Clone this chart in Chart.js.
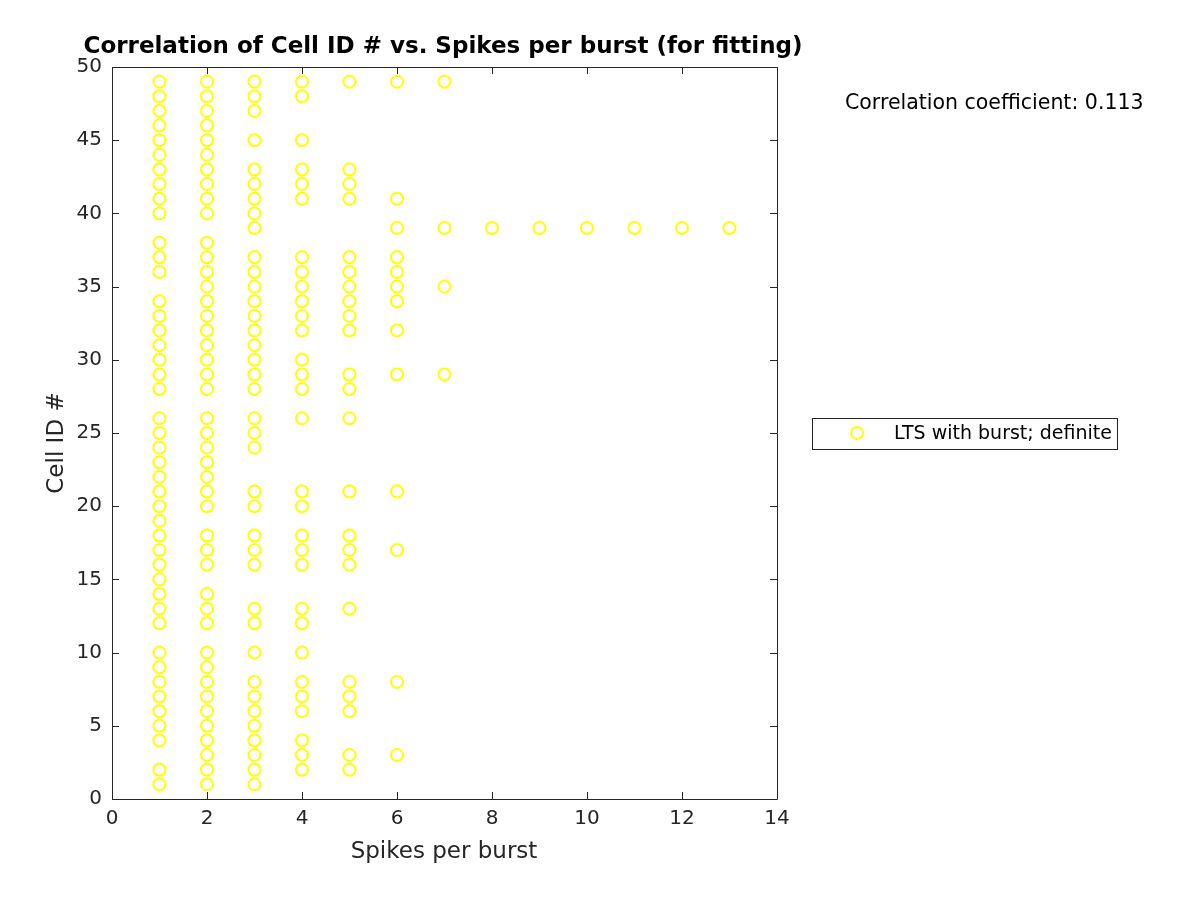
<!DOCTYPE html>
<html>
<head>
<meta charset="utf-8">
<script src="https://cdn.jsdelivr.net/npm/chart.js@4.4.1/dist/chart.umd.min.js"></script>
<style>
  html, body { margin: 0; padding: 0; background: #fff; }
  #wrap { width: 1200px; height: 900px; }
</style>
</head>
<body>
<div id="wrap"><canvas id="myScatter" width="1200" height="900"></canvas></div>
<script>
// Cell IDs that were seen at each spikes-per-burst value
const cellsAt1 = [49, 48, 47, 46, 45, 44, 43, 42, 41, 40, 38, 37, 36, 34, 33, 32, 31, 30, 29, 28, 26, 25, 24, 23, 22, 21, 20, 19, 18, 17, 16, 15, 14, 13, 12, 10, 9, 8, 7, 6, 5, 4, 2, 1];
const cellsAt2 = [49, 48, 47, 46, 45, 44, 43, 42, 41, 40, 38, 37, 36, 35, 34, 33, 32, 31, 30, 29, 28, 26, 25, 24, 23, 22, 21, 20, 18, 17, 16, 14, 13, 12, 10, 9, 8, 7, 6, 5, 4, 3, 2, 1];
const cellsAt3 = [49, 48, 47, 45, 43, 42, 41, 40, 39, 37, 36, 35, 34, 33, 32, 31, 30, 29, 28, 26, 25, 24, 21, 20, 18, 17, 16, 13, 12, 10, 8, 7, 6, 5, 4, 3, 2, 1];
const cellsAt4 = [49, 48, 45, 43, 42, 41, 37, 36, 35, 34, 33, 32, 30, 29, 28, 26, 21, 20, 18, 17, 16, 13, 12, 10, 8, 7, 6, 4, 3, 2];
const cellsAt5 = [49, 43, 42, 41, 37, 36, 35, 34, 33, 32, 29, 28, 26, 21, 18, 17, 16, 13, 8, 7, 6, 3, 2];
const cellsAt6 = [49, 41, 39, 37, 36, 35, 34, 32, 29, 21, 17, 8, 3];
const cellsAt7 = [49, 39, 35, 29];
const cellsAt8to13 = [39];

const spikeCounts = [1, 2, 3, 4, 5, 6, 7, 8, 9, 10, 11, 12, 13];
const cellLists = [cellsAt1, cellsAt2, cellsAt3, cellsAt4, cellsAt5, cellsAt6, cellsAt7,
                   cellsAt8to13, cellsAt8to13, cellsAt8to13, cellsAt8to13, cellsAt8to13, cellsAt8to13];

const xTicks = [0, 2, 4, 6, 8, 10, 12, 14];
const yTicks = [0, 5, 10, 15, 20, 25, 30, 35, 40, 45, 50];

const titleText = 'Correlation of Cell ID # vs. Spikes per burst (for fitting)';
const xLabel = 'Spikes per burst';
const yLabel = 'Cell ID #';
const legendLabel = 'LTS with burst; definite';
const corrText = 'Correlation coefficient: 0.113';

// Построяваме точките от масивите
let points = [];
spikeCounts.forEach((s, i) => {
    cellLists[i].forEach(id => points.push({ x: s, y: id }));
});

const ink = '#262626';
const yellow = 'rgb(255, 255, 0)';
const font = 'DejaVu Sans';

// Plugin: рамка, вътрешни чертички, заглавие, надписи на осите, легенда
const matlabLook = {
    id: 'matlabLook',
    afterDraw(chart) {
        const ctx = chart.ctx;
        const a = chart.chartArea;
        const xs = chart.scales.x;
        const ys = chart.scales.y;
        ctx.save();
        ctx.strokeStyle = ink;
        ctx.lineWidth = 1;
        ctx.beginPath();
        ctx.rect(a.left + 0.5, a.top + 0.5, a.right - a.left, a.bottom - a.top);
        ctx.stroke();

        const tl = 7;
        ctx.beginPath();
        xTicks.forEach(v => {
            const px = Math.round(xs.getPixelForValue(v)) + 0.5;
            ctx.moveTo(px, a.bottom); ctx.lineTo(px, a.bottom - tl);
            ctx.moveTo(px, a.top); ctx.lineTo(px, a.top + tl);
        });
        yTicks.forEach(v => {
            const py = Math.round(ys.getPixelForValue(v)) + 0.5;
            ctx.moveTo(a.left, py); ctx.lineTo(a.left + tl, py);
            ctx.moveTo(a.right, py); ctx.lineTo(a.right - tl, py);
        });
        ctx.stroke();

        // Заглавие
        ctx.fillStyle = '#000';
        ctx.font = `bold 23px "${font}"`;
        ctx.textAlign = 'center';
        ctx.textBaseline = 'middle';
        ctx.fillText(titleText, 443, 47);

        // Надписи на осите
        ctx.fillStyle = ink;
        ctx.font = `23px "${font}"`;
        ctx.fillText(xLabel, 444, 852);
        ctx.save();
        ctx.translate(57, 443);
        ctx.rotate(-Math.PI / 2);
        ctx.fillText(yLabel, 0, 0);
        ctx.restore();

        // Коефициент на корелация
        ctx.fillStyle = '#000';
        ctx.font = `20.5px "${font}"`;
        ctx.textAlign = 'left';
        ctx.fillText(corrText, 845, 104);

        // Легенда
        ctx.fillStyle = '#fff';
        ctx.fillRect(812.5, 418.5, 305, 31);
        ctx.strokeStyle = ink;
        ctx.strokeRect(812.5, 418.5, 305, 31);
        ctx.strokeStyle = yellow;
        ctx.lineWidth = 2;
        ctx.beginPath();
        ctx.arc(857, 433, 6, 0, Math.PI * 2);
        ctx.stroke();
        ctx.fillStyle = '#000';
        ctx.font = `19px "${font}"`;
        ctx.fillText(legendLabel, 894, 434);
        ctx.restore();
    }
};

const canvasScatter = document.getElementById('myScatter');

new Chart(canvasScatter, {
    type: 'scatter',
    data: {
        datasets: [{
            label: legendLabel,
            data: points,
            pointStyle: 'circle',
            pointRadius: 6,
            borderColor: yellow,
            backgroundColor: 'rgba(0,0,0,0)',
            borderWidth: 2
        }]
    },
    options: {
        responsive: false,
        animation: false,
        layout: {
            padding: { left: 0, top: 67, right: 423, bottom: 0 }
        },
        scales: {
            x: {
                type: 'linear',
                min: 0,
                max: 14,
                afterFit: scale => { scale.height = 101; },
                afterBuildTicks: scale => { scale.ticks = xTicks.map(v => ({ value: v })); },
                grid: { display: false, drawTicks: false },
                border: { display: false },
                ticks: {
                    color: ink,
                    padding: 8,
                    font: { family: font, size: 20 }
                }
            },
            y: {
                type: 'linear',
                min: 0,
                max: 50,
                afterFit: scale => { scale.width = 112; },
                afterBuildTicks: scale => { scale.ticks = yTicks.map(v => ({ value: v })); },
                grid: { display: false, drawTicks: false },
                border: { display: false },
                ticks: {
                    color: ink,
                    padding: 10,
                    font: { family: font, size: 20 }
                }
            }
        },
        plugins: {
            legend: { display: false },
            title: { display: false },
            tooltip: { enabled: false }
        }
    },
    plugins: [matlabLook]
});
</script>
</body>
</html>
